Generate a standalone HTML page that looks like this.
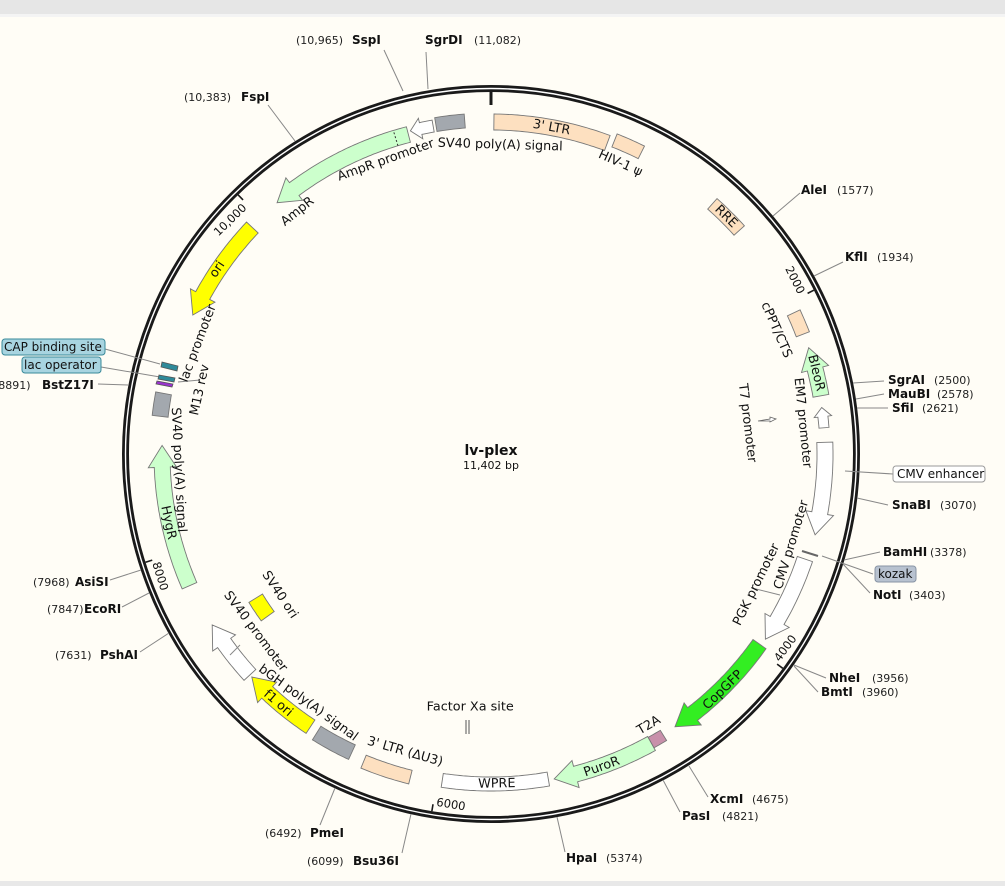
<!DOCTYPE html>
<html><head><meta charset="utf-8"><style>
html,body{margin:0;padding:0;background:#fffdf6;}
svg{display:block;font-family:"DejaVu Sans","Liberation Sans",sans-serif;}
.s{font-size:11px;fill:#222;}
.b{font-size:12px;font-weight:bold;fill:#111;}
.f{font-size:12px;fill:#111;}
.lab{font-size:12.8px;}
.t{font-size:11.5px;fill:#111;}
</style></head><body>
<svg id="m" width="1005" height="886" viewBox="0 0 1005 886" xmlns="http://www.w3.org/2000/svg">
<rect x="0" y="0" width="1005" height="886" fill="#fffdf6"/>
<rect x="0" y="0" width="1005" height="14" fill="#e6e6e6"/>
<rect x="0" y="14" width="1005" height="3" fill="#f4f4f4"/>
<rect x="0" y="881" width="1005" height="5" fill="#e8e8e8"/>
<g id="feat"></g>
<circle cx="491" cy="454" r="365.5" fill="none" stroke="#1a1a1a" stroke-width="7"/>
<circle cx="491" cy="454" r="365.5" fill="none" stroke="#ffffff" stroke-width="1.4"/>
<g id="ticks" stroke="#1a1a1a"></g>
<g stroke="#888" stroke-width="1" fill="none">
<line x1="384" y1="50" x2="403" y2="91"/>
<line x1="426" y1="52" x2="428" y2="89"/>
<line x1="268" y1="105" x2="295" y2="141"/>
<line x1="800" y1="193" x2="773" y2="216"/>
<line x1="843" y1="262" x2="814" y2="276"/>
<line x1="884" y1="381" x2="853" y2="383"/>
<line x1="884" y1="394" x2="856" y2="399"/>
<line x1="888" y1="408" x2="857" y2="408"/>
<line x1="893" y1="474" x2="845" y2="471"/>
<line x1="888" y1="505" x2="857" y2="498"/>
<line x1="880" y1="552" x2="844" y2="560"/>
<line x1="873" y1="574" x2="822" y2="556"/>
<line x1="870" y1="593" x2="843" y2="564"/>
<line x1="826" y1="678" x2="794" y2="665"/>
<line x1="818" y1="692" x2="794" y2="666"/>
<line x1="708" y1="797" x2="689" y2="766"/>
<line x1="680" y1="812" x2="663" y2="780"/>
<line x1="565" y1="852" x2="557" y2="817"/>
<line x1="402" y1="853" x2="411" y2="814"/>
<line x1="320" y1="825" x2="335" y2="788"/>
<line x1="140" y1="652" x2="169" y2="633"/>
<line x1="122" y1="607" x2="149" y2="593"/>
<line x1="110" y1="580" x2="141" y2="570"/>
<line x1="98" y1="384" x2="128" y2="385"/>
<line x1="105" y1="349" x2="160" y2="364"/>
<line x1="101" y1="367" x2="160" y2="377"/>
<line x1="200" y1="380" x2="178" y2="382"/>
<line x1="752" y1="588" x2="780" y2="595"/>
<line x1="230" y1="655" x2="240" y2="645"/>
</g>
<g stroke="#555" stroke-width="0.8">
<path d="M162,362 L178,366 L177,371 L161,367 Z" fill="#2f8a99"/>
<path d="M160,371 L176,374" stroke="#fff" stroke-dasharray="2,1.5" stroke-width="2"/>
<path d="M159,375 L175,378 L174,382 L158,379 Z" fill="#2f8a99"/>
<path d="M157,381 L173,384 L172,387 L156,384 Z" fill="#9933cc"/>
</g>
<path d="M758,421 L770,419 L770,417 L776,419 L770,422 L770,421 Z" fill="#fff" stroke="#666" stroke-width="0.8"/>
<g stroke="#555" stroke-width="1"><line x1="466" y1="720" x2="466" y2="734"/><line x1="469" y1="720" x2="469" y2="734"/></g>
<line x1="802" y1="551" x2="818" y2="556" stroke="#666" stroke-width="2"/>

<text x="296" y="44" class="s">(10,965)</text><text x="352" y="44" class="b">SspI</text>
<text x="425" y="44" class="b">SgrDI</text><text x="474" y="44" class="s">(11,082)</text>
<text x="184" y="101" class="s">(10,383)</text><text x="241" y="101" class="b">FspI</text>
<text x="801" y="194" class="b">AleI</text><text x="837" y="194" class="s">(1577)</text>
<text x="845" y="261" class="b">KflI</text><text x="877" y="261" class="s">(1934)</text>
<text x="888" y="384" class="b">SgrAI</text><text x="934" y="384" class="s">(2500)</text>
<text x="888" y="398" class="b">MauBI</text><text x="937" y="398" class="s">(2578)</text>
<text x="892" y="412" class="b">SfiI</text><text x="922" y="412" class="s">(2621)</text>
<rect x="893" y="466" width="92" height="16" rx="3" fill="#fff" stroke="#999"/>
<text x="897" y="478" class="f">CMV enhancer</text>
<text x="892" y="509" class="b">SnaBI</text><text x="940" y="509" class="s">(3070)</text>
<text x="883" y="556" class="b">BamHI</text><text x="930" y="556" class="s">(3378)</text>
<rect x="875" y="566" width="41" height="16" rx="3" fill="#b8c2d0" stroke="#8894a4"/>
<text x="878" y="578" class="f">kozak</text>
<text x="873" y="599" class="b">NotI</text><text x="909" y="599" class="s">(3403)</text>
<text x="829" y="682" class="b">NheI</text><text x="872" y="682" class="s">(3956)</text>
<text x="821" y="696" class="b">BmtI</text><text x="862" y="696" class="s">(3960)</text>
<text x="710" y="803" class="b">XcmI</text><text x="752" y="803" class="s">(4675)</text>
<text x="682" y="820" class="b">PasI</text><text x="722" y="820" class="s">(4821)</text>
<text x="566" y="862" class="b">HpaI</text><text x="606" y="862" class="s">(5374)</text>
<text x="307" y="865" class="s">(6099)</text><text x="353" y="865" class="b">Bsu36I</text>
<text x="265" y="837" class="s">(6492)</text><text x="310" y="837" class="b">PmeI</text>
<text x="55" y="659" class="s">(7631)</text><text x="100" y="659" class="b">PshAI</text>
<text x="47" y="613" class="s">(7847)</text><text x="84" y="613" class="b">EcoRI</text>
<text x="33" y="586" class="s">(7968)</text><text x="75" y="586" class="b">AsiSI</text>
<text x="-6" y="389" class="s">(8891)</text><text x="42" y="389" class="b">BstZ17I</text>
<rect x="2" y="339" width="103" height="16" rx="3" fill="#a8d4e0" stroke="#3a8a9a"/>
<text x="4" y="351" class="f">CAP binding site</text>
<rect x="22" y="357" width="79" height="16" rx="3" fill="#a8d4e0" stroke="#3a8a9a"/>
<text x="24" y="369" class="f">lac operator</text>

<text x="491" y="455" text-anchor="middle" style="font-size:14px;font-weight:bold;fill:#111">lv-plex</text>
<text x="491" y="469" text-anchor="middle" style="font-size:11px;fill:#111">11,402 bp</text>

<g id="labels">
<text class="f lab" ang="10.5" rad="332">3' LTR</text>
<text class="f lab" ang="1.7" rad="309">SV40 poly(A) signal</text>
<text class="f lab" ang="24" rad="318">HIV-1 ψ</text>
<text class="f lab" ang="340.3" rad="312">AmpR promoter</text>
<text class="f lab" ang="321.4" rad="310">AmpR</text>
<text class="f lab" ang="304" rad="330">ori</text>
<text class="f lab" ang="44.7" rad="334">RRE</text>
<text class="f lab" ang="66.5" rad="311">cPPT/CTS</text>
<text class="f lab" ang="76" rad="335">BleoR</text>
<text class="f lab" ang="84.3" rad="313">EM7 promoter</text>
<text class="f lab" ang="83.1" rad="258">T7 promoter</text>
<text class="f lab" ang="106.8" rad="314">CMV promoter</text>
<text class="f lab" ang="116.2" rad="296">PGK promoter</text>
<text class="f lab" ang="135.5" rad="331">CopGFP</text>
<text class="f lab" ang="149.8" rad="314">T2A</text>
<text class="f lab" ang="160.5" rad="332">PuroR</text>
<text class="f lab" ang="179" rad="330">WPRE</text>
<text class="f lab" ang="196.1" rad="310">3' LTR (ΔU3)</text>
<text class="f lab" ang="216.3" rad="309">bGH poly(A) signal</text>
<text class="f lab" ang="220.5" rad="328">f1 ori</text>
<text class="f lab" ang="233" rad="295">SV40 promoter</text>
<text class="f lab" ang="236.3" rad="254">SV40 ori</text>
<text class="f lab" ang="258" rad="330">HygR</text>
<text class="f lab" ang="267.1" rad="313">SV40 poly(A) signal</text>
<text class="f lab" ang="282.4" rad="298">M13 rev</text>
<text class="f lab" ang="290.7" rad="313">lac promoter</text>
<text class="f lab" ang="184.7" rad="254" norot="1">Factor Xa site</text>
</g>
<g id="ticklabels">
<text class="t tl" ang="63.1">2000</text>
<text class="t tl" ang="126.3">4000</text>
<text class="t tl" ang="189.4">6000</text>
<text class="t tl" ang="252.6">8000</text>
<text class="t tl" ang="315.7">10,000</text>
</g>
</svg>
<script>
(function(){
var CX=491,CY=454,NS="http://www.w3.org/2000/svg";
function P(a,r){var t=a*Math.PI/180;return [CX+r*Math.sin(t),CY-r*Math.cos(t)];}
function arc(a1,a2,r){var pts=[],n=Math.max(2,Math.ceil(Math.abs(a2-a1)*2));for(var i=0;i<=n;i++){pts.push(P(a1+(a2-a1)*i/n,r));}return pts;}
function poly(pts,fill,stroke,parent){var p=document.createElementNS(NS,"path");var d="M"+pts.map(function(q){return q[0].toFixed(1)+","+q[1].toFixed(1);}).join(" L")+" Z";p.setAttribute("d",d);p.setAttribute("fill",fill);p.setAttribute("stroke",stroke||"#777");p.setAttribute("stroke-width","0.9");parent.appendChild(p);}
var G=document.getElementById("feat");
var PE="#fde0c0",GR="#a3a8ae",LG="#ccffcc",WH="#ffffff",YE="#ffff00",BG="#33ee22";
var F=[
[0.5,20.5,332,8,PE,0],[21.5,26.5,337,7,PE,0],[41.5,48,334,7,PE,0],[65,69,334,7,PE,0],
[71.5,80,335,8,LG,-1],[82,85.5,334,5,WH,-1],[88,104,334,8,WH,1],[108.5,124,331,8,WH,1],
[125.3,146,329,8,BG,1],[148.5,151,330,6,"#c890aa",0],[151,169,331,8,LG,1],[170,188.5,330,7,WH,0],
[194,202.5,333,7,PE,0],[205,212,329,8,GR,0],[213.5,227,327,8,YE,1],[227.5,238.5,327,8,WH,1],
[246.4,271.5,329,8,LG,1],[276.5,280.5,333,8,GR,0],[295,313.5,329,8,YE,-1],[319.6,345.5,330,8,LG,-1],
[346,350,333,6,WH,-1],[350.5,355.5,334,7,GR,0],[234,238.5,276,8,YE,0]
];
F.forEach(function(f){
 var a1=f[0],a2=f[1],r=f[2],hw=f[3],fill=f[4],dir=f[5],pts;
 if(dir===0){pts=arc(a1,a2,r+hw).concat(arc(a2,a1,r-hw));}
 else{
  var hh=hw*1.75,h=Math.min(3.8,(a2-a1)*0.45);
  if(dir===1){var b=a2-h;pts=arc(a1,b,r+hw).concat([P(b,r+hh),P(a2,r),P(b,r-hh)]).concat(arc(b,a1,r-hw));}
  else{var b=a1+h;pts=[P(a1,r),P(b,r+hh)].concat(arc(b,a2,r+hw)).concat(arc(a2,b,r-hw)).concat([P(b,r-hh)]);}
 }
 poly(pts,fill,"#777",G);
});
var d1=P(343.2,322),d2=P(343.2,338);var ln=document.createElementNS(NS,"line");
ln.setAttribute("x1",d1[0]);ln.setAttribute("y1",d1[1]);ln.setAttribute("x2",d2[0]);ln.setAttribute("y2",d2[1]);
ln.setAttribute("stroke","#333");ln.setAttribute("stroke-dasharray","2,2");G.appendChild(ln);
var T=document.getElementById("ticks");
[[0,349,3],[63.1,355,1.6],[126.3,355,1.6],[189.4,355,1.6],[252.6,355,1.6],[315.7,355,1.6]].forEach(function(t){
 var a=P(t[0],362),b=P(t[0],t[1]);var l=document.createElementNS(NS,"line");
 l.setAttribute("x1",a[0]);l.setAttribute("y1",a[1]);l.setAttribute("x2",b[0]);l.setAttribute("y2",b[1]);l.setAttribute("stroke-width",t[2]);T.appendChild(l);
});
function rot(a){a=((a%360)+360)%360;if(a<=90)return a;if(a>=270)return a-360;return a-180;}
Array.prototype.forEach.call(document.querySelectorAll(".lab"),function(e){
 var a=parseFloat(e.getAttribute("ang")),r=parseFloat(e.getAttribute("rad"));var p=P(a,r);
 var ro=e.getAttribute("norot")?0:rot(a);
 e.setAttribute("text-anchor","middle");e.setAttribute("dominant-baseline","central");
 e.setAttribute("transform","translate("+p[0].toFixed(1)+","+p[1].toFixed(1)+") rotate("+ro.toFixed(1)+")");
});
Array.prototype.forEach.call(document.querySelectorAll(".tl"),function(e){
 var a=parseFloat(e.getAttribute("ang"));var right=(a<=90||a>=270);
 var p=P(a-0.5,right?346:356);var ro=rot(a);
 e.setAttribute("text-anchor",right?"end":"start");
 e.setAttribute("transform","translate("+p[0].toFixed(1)+","+p[1].toFixed(1)+") rotate("+ro.toFixed(1)+")");
});
})();
</script>
</body></html>
